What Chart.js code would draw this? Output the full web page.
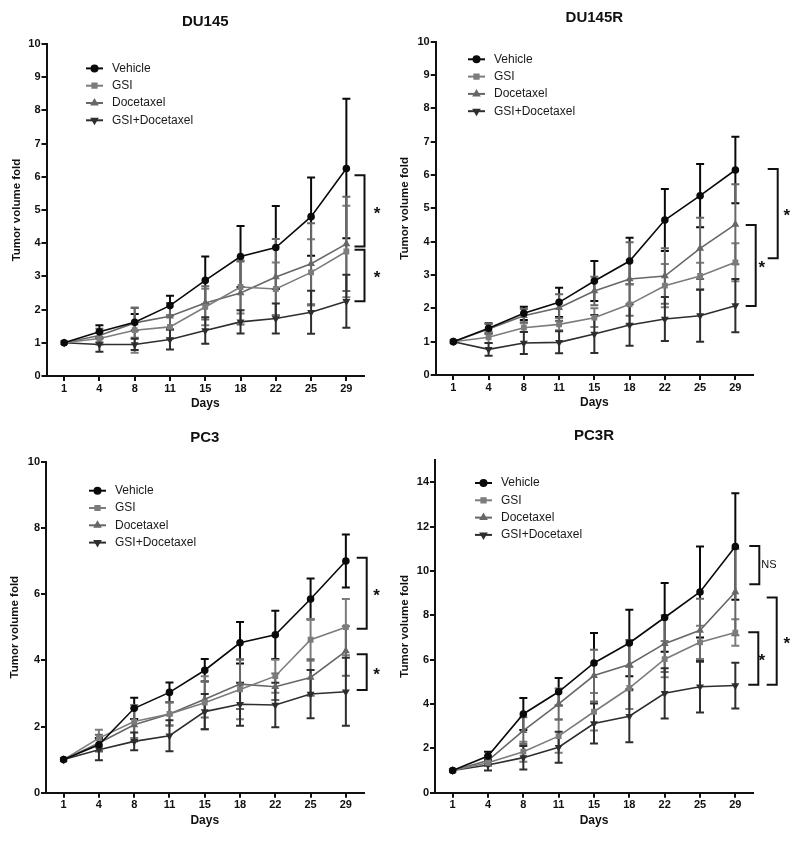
<!DOCTYPE html>
<html>
<head>
<meta charset="utf-8">
<title>Tumor volume fold</title>
<script src="https://cdn.jsdelivr.net/npm/chart.js@4.4.1/dist/chart.umd.min.js"></script>
<style>
    body { margin: 0; background: #fff; }
    #wrap { position: relative; width: 800px; height: 841px; }
    canvas { position: absolute; }
</style>
</head>
<body>
<div id="wrap">
    <canvas id="du145" width="400" height="420" style="left:0;top:0"></canvas>
    <canvas id="du145r" width="400" height="420" style="left:400px;top:0"></canvas>
    <canvas id="pc3" width="400" height="421" style="left:0;top:420px"></canvas>
    <canvas id="pc3r" width="400" height="421" style="left:400px;top:420px"></canvas>
</div>
<script>
// x categories (days)
const days = ['1', '4', '8', '11', '15', '18', '22', '25', '29'];
const seriesNames = ['Vehicle', 'GSI', 'Docetaxel', 'GSI+Docetaxel'];

// DU145 means and error
const du145Vehicle = [1, 1.33, 1.62, 2.12, 2.88, 3.6, 3.87, 4.8, 6.25];
const du145VehicleErr = [0, 0.2, 0.25, 0.3, 0.72, 0.92, 1.25, 1.18, 2.1];
const du145Gsi = [1, 1.13, 1.38, 1.48, 2.08, 2.68, 2.62, 3.12, 3.75];
const du145GsiErr = [0, 0.18, 0.68, 0.35, 0.55, 0.8, 0.8, 1.0, 1.38];
const du145Doc = [1, 1.22, 1.6, 1.8, 2.2, 2.5, 2.98, 3.38, 3.98];
const du145DocErr = [0, 0.2, 0.45, 0.4, 0.5, 0.95, 1.15, 1.22, 1.42];
const du145Combo = [1, 0.95, 0.95, 1.1, 1.37, 1.63, 1.73, 1.92, 2.25];
const du145ComboErr = [0, 0.22, 0.17, 0.3, 0.4, 0.35, 0.45, 0.65, 0.8];

// DU145R
const du145rVehicle = [1, 1.4, 1.85, 2.18, 2.82, 3.42, 4.65, 5.38, 6.15];
const du145rVehicleErr = [0, 0.15, 0.2, 0.44, 0.6, 0.7, 0.93, 0.95, 1.0];
const du145rGsi = [1, 1.13, 1.42, 1.52, 1.72, 2.12, 2.68, 2.97, 3.38];
const du145rGsiErr = [0, 0.17, 0.13, 0.18, 0.28, 0.6, 0.65, 0.4, 0.57];
const du145rDoc = [1, 1.38, 1.78, 2.02, 2.52, 2.88, 2.97, 3.8, 4.52];
const du145rDocErr = [0, 0.15, 0.2, 0.4, 0.43, 1.1, 0.83, 0.92, 1.2];
const du145rCombo = [1, 0.77, 0.96, 0.98, 1.23, 1.5, 1.68, 1.78, 2.08];
const du145rComboErr = [0, 0.19, 0.33, 0.33, 0.57, 0.62, 0.66, 0.78, 0.8];

// PC3
const pc3Vehicle = [1, 1.45, 2.55, 3.03, 3.7, 4.53, 4.77, 5.85, 7.0];
const pc3VehicleErr = [0, 0.2, 0.32, 0.3, 0.34, 0.63, 0.73, 0.62, 0.8];
const pc3Gsi = [1, 1.65, 2.15, 2.38, 2.72, 3.12, 3.52, 4.62, 5.0];
const pc3GsiErr = [0, 0.25, 0.5, 0.35, 0.8, 0.9, 0.5, 0.63, 0.85];
const pc3Doc = [1, 1.5, 2.05, 2.38, 2.82, 3.28, 3.2, 3.48, 4.28];
const pc3DocErr = [0, 0.25, 0.5, 0.35, 0.55, 0.75, 0.4, 0.55, 0.75];
const pc3Combo = [1, 1.3, 1.55, 1.72, 2.45, 2.67, 2.65, 2.98, 3.05];
const pc3ComboErr = [0, 0.32, 0.27, 0.47, 0.53, 0.65, 0.67, 0.73, 1.03];

// PC3R
const pc3rVehicle = [1, 1.65, 3.55, 4.55, 5.85, 6.75, 7.9, 9.05, 11.1];
const pc3rVehicleErr = [0, 0.2, 0.72, 0.62, 1.35, 1.5, 1.55, 2.05, 2.4];
const pc3rGsi = [1, 1.35, 1.85, 2.55, 3.65, 4.72, 6.02, 6.78, 7.22];
const pc3rGsiErr = [0, 0.15, 0.45, 0.75, 0.85, 0.95, 0.82, 0.75, 0.6];
const pc3rDoc = [1, 1.45, 2.8, 4.0, 5.28, 5.78, 6.72, 7.32, 9.05];
const pc3rDocErr = [0, 0.2, 0.6, 0.7, 1.17, 1.1, 1.28, 1.43, 1.95];
const pc3rCombo = [1, 1.25, 1.58, 2.05, 3.12, 3.45, 4.48, 4.78, 4.83];
const pc3rComboErr = [0, 0.25, 0.53, 0.7, 0.9, 1.17, 1.13, 1.16, 1.03];

// significance brackets: [top, bottom, label] on the y scale
const du145Brackets = [[6.05, 3.9, '*'], [3.8, 2.25, '*']];
const du145rBrackets = [[6.18, 3.5, '*'], [4.5, 2.07, '*']];
const pc3Brackets = [[7.1, 4.95, '*'], [4.18, 3.1, '*']];
const pc3rBrackets = [[11.12, 9.4, 'NS'], [7.23, 4.87, '*'], [8.8, 4.87, '*']];

// series look: colour, marker, rotation
const seriesColors = ['#0a0a0a', '#7c7c7c', '#676767', '#2e2e2e'];
const seriesMarkers = ['circle', 'rect', 'triangle', 'triangle'];
const seriesRotation = [0, 0, 0, 180];

const FONT = '"Liberation Sans", Arial, sans-serif';

// draw the error bars from the y scale
const errorBars = {
    id: 'errorBars',
    beforeDatasetsDraw (chart) {
        const ctx = chart.ctx;
        const yScale = chart.scales.y;
        chart.data.datasets.forEach(function (ds, i) {
            const meta = chart.getDatasetMeta(i);
            ctx.save();
            ctx.strokeStyle = ds.borderColor;
            ctx.lineWidth = 2;
            meta.data.forEach(function (pt, j) {
                const err = ds.errors[j];
                if (!err) return;
                const yTop = yScale.getPixelForValue(ds.data[j] + err);
                const yBot = yScale.getPixelForValue(ds.data[j] - err);
                ctx.beginPath();
                ctx.moveTo(pt.x, yTop);
                ctx.lineTo(pt.x, yBot);
                ctx.moveTo(pt.x - 4, yTop);
                ctx.lineTo(pt.x + 4, yTop);
                ctx.moveTo(pt.x - 4, yBot);
                ctx.lineTo(pt.x + 4, yBot);
                ctx.stroke();
            });
            ctx.restore();
        });
    }
};

// legend inside the plot: line + marker + name
const lineLegend = {
    id: 'lineLegend',
    afterDraw (chart, args, opts) {
        const ctx = chart.ctx;
        const area = chart.chartArea;
        const x = area.left + opts.x;
        let y = area.top + opts.y;
        chart.data.datasets.forEach(function (ds) {
            ctx.save();
            ctx.strokeStyle = ds.borderColor;
            ctx.fillStyle = ds.borderColor;
            ctx.lineWidth = 2;
            ctx.beginPath();
            ctx.moveTo(x, y);
            ctx.lineTo(x + 17, y);
            ctx.stroke();
            Chart.helpers.drawPoint(ctx, {
                pointStyle: ds.pointStyle,
                radius: 3,
                rotation: ds.pointRotation,
                borderWidth: 1
            }, x + 8.5, y);
            ctx.fillStyle = '#1a1a1a';
            ctx.font = '12px ' + FONT;
            ctx.textBaseline = 'middle';
            ctx.textAlign = 'left';
            ctx.fillText(ds.label, x + 26, y);
            ctx.restore();
            y += 17.3;
        });
    }
};

// brackets with * / NS to the right of the plot
const brackets = {
    id: 'brackets',
    afterDraw (chart, args, opts) {
        const ctx = chart.ctx;
        const yScale = chart.scales.y;
        const right = chart.chartArea.right;
        opts.items.forEach(function (b, i) {
            const place = opts.place[i];
            const x = right + place[0];
            const y1 = yScale.getPixelForValue(b[0]);
            const y2 = yScale.getPixelForValue(b[1]);
            ctx.save();
            ctx.strokeStyle = '#111';
            ctx.lineWidth = 2;
            ctx.beginPath();
            ctx.moveTo(x - 10, y1);
            ctx.lineTo(x, y1);
            ctx.lineTo(x, y2);
            ctx.lineTo(x - 10, y2);
            ctx.stroke();
            ctx.fillStyle = '#111';
            ctx.textAlign = 'center';
            ctx.textBaseline = 'middle';
            if (b[2] === 'NS') {
                ctx.font = '11px ' + FONT;
                ctx.fillText(b[2], right + place[1], (y1 + y2) / 2);
            } else {
                ctx.font = 'bold 17px ' + FONT;
                ctx.fillText(b[2], right + place[1], (y1 + y2) / 2 + 3);
            }
            ctx.restore();
        });
    }
};

/**
 * build one panel
 * @param {Object} p - panel settings
 */
function makePanel (p) {
    const datasets = p.series.map(function (s, i) {
        return {
            label: seriesNames[i],
            data: s[0],
            errors: s[1],
            borderColor: seriesColors[i],
            backgroundColor: seriesColors[i],
            pointBackgroundColor: seriesColors[i],
            pointBorderColor: seriesColors[i],
            borderWidth: 1.6,
            pointStyle: seriesMarkers[i],
            pointRotation: seriesRotation[i],
            pointRadius: 3,
            tension: 0
        };
    });

    const config = {
        type: 'line',
        data: { labels: days, datasets: datasets },
        options: {
            responsive: false,
            animation: false,
            events: [],
            layout: {
                padding: { left: 0, right: p.padRight, top: 0, bottom: p.padBottom }
            },
            plugins: {
                legend: { display: false },
                tooltip: { enabled: false },
                title: {
                    display: true,
                    fullSize: false,
                    text: p.title,
                    color: '#111',
                    font: { family: FONT, size: 15, weight: 'bold', lineHeight: 1.2 },
                    padding: { top: p.titleTop, bottom: p.titleBottom }
                },
                lineLegend: p.legend,
                brackets: { items: p.brackets, place: p.bracketPlace }
            },
            scales: {
                x: {
                    type: 'category',
                    offset: true,
                    grid: {
                        offset: false,
                        drawOnChartArea: false,
                        color: '#111',
                        lineWidth: 2,
                        tickLength: 5
                    },
                    border: { color: '#111', width: 2 },
                    ticks: {
                        color: '#111',
                        padding: 1,
                        font: { family: FONT, size: 11, weight: 'bold' }
                    },
                    title: {
                        display: true,
                        text: 'Days',
                        color: '#111',
                        font: { family: FONT, size: 12, weight: 'bold', lineHeight: 1 },
                        padding: { top: 0, bottom: 10 }
                    },
                    afterFit: function (scale) { scale.height = 44; }
                },
                y: {
                    min: 0,
                    max: p.yMax,
                    grid: {
                        drawOnChartArea: false,
                        color: '#111',
                        lineWidth: 2,
                        tickLength: 5
                    },
                    border: { color: '#111', width: 2 },
                    ticks: {
                        stepSize: p.yStep,
                        includeBounds: false,
                        color: '#111',
                        padding: 1,
                        font: { family: FONT, size: 11, weight: 'bold' }
                    },
                    title: {
                        display: true,
                        text: 'Tumor volume fold',
                        color: '#111',
                        font: { family: FONT, size: 11.5, weight: 'bold', lineHeight: 1 },
                        padding: { top: p.yTitlePad, bottom: 0 }
                    },
                    afterFit: function (scale) { scale.width = p.yWidth; }
                }
            }
        },
        plugins: [errorBars, lineLegend, brackets]
    };

    return new Chart(document.getElementById(p.id), config);
}

makePanel({
    id: 'du145',
    title: 'DU145',
    series: [[du145Vehicle, du145VehicleErr], [du145Gsi, du145GsiErr], [du145Doc, du145DocErr], [du145Combo, du145ComboErr]],
    yMax: 10,
    yStep: 1,
    yWidth: 46.5,
    yTitlePad: 11,
    padRight: 36,
    padBottom: 0,
    titleTop: 13,
    titleBottom: 13,
    legend: { x: 39.5, y: 24.4 },
    brackets: du145Brackets,
    bracketPlace: [[0.5, 13], [0.5, 13]]
});

makePanel({
    id: 'du145r',
    title: 'DU145R',
    series: [[du145rVehicle, du145rVehicleErr], [du145rGsi, du145rGsiErr], [du145rDoc, du145rDocErr], [du145rCombo, du145rComboErr]],
    yMax: 10,
    yStep: 1,
    yWidth: 35.7,
    yTitlePad: -1,
    padRight: 47,
    padBottom: 1,
    titleTop: 9,
    titleBottom: 14.7,
    legend: { x: 32.3, y: 17.6 },
    brackets: du145rBrackets,
    bracketPlace: [[24.7, 33.7], [2.7, 8.7]]
});

makePanel({
    id: 'pc3',
    title: 'PC3',
    series: [[pc3Vehicle, pc3VehicleErr], [pc3Gsi, pc3GsiErr], [pc3Doc, pc3DocErr], [pc3Combo, pc3ComboErr]],
    yMax: 10,
    yStep: 2,
    yWidth: 46,
    yTitlePad: 9,
    padRight: 36.5,
    padBottom: 4.3,
    titleTop: 9,
    titleBottom: 14.7,
    legend: { x: 43, y: 29 },
    brackets: pc3Brackets,
    bracketPlace: [[3.2, 13], [3.2, 13]]
});

makePanel({
    id: 'pc3r',
    title: 'PC3R',
    series: [[pc3rVehicle, pc3rVehicleErr], [pc3rGsi, pc3rGsiErr], [pc3rDoc, pc3rDocErr], [pc3rCombo, pc3rComboErr]],
    yMax: 15,
    yStep: 2,
    yWidth: 35,
    yTitlePad: -1,
    padRight: 47,
    padBottom: 4.3,
    titleTop: 7,
    titleBottom: 15,
    legend: { x: 40, y: 23 },
    brackets: pc3rBrackets,
    bracketPlace: [[6.3, 16], [5.3, 8.7], [23.7, 33.7]]
});
</script>
</body>
</html>
